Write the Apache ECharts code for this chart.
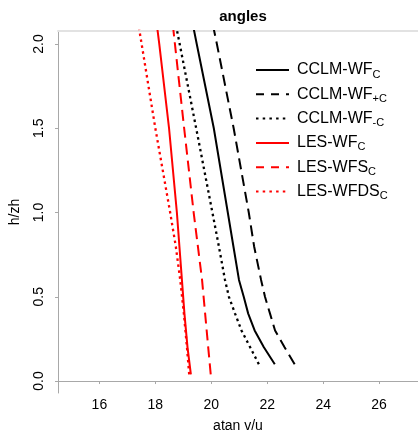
<!DOCTYPE html>
<html><head><meta charset="utf-8">
<script src="https://cdn.jsdelivr.net/npm/echarts@6/dist/echarts.min.js"></script>
<style>html,body{margin:0;padding:0;background:#fff}#c{width:418px;height:438px}</style>
</head><body><div id="c"></div>
<script>
const xTicks = [16, 18, 20, 22, 24, 26];
const yTicks = [0, 0.5, 1.0, 1.5, 2.0];
const hCCLM = [0.1, 0.2, 0.3, 0.4, 0.5, 0.6, 0.8, 1.0, 1.5, 2.0, 2.2];
const cclmWF      = [22.27, 21.88, 21.55, 21.32, 21.16, 20.99, 20.79, 20.59, 20.09, 19.48, 19.24];
const cclmWFplus  = [22.98, 22.62, 22.28, 22.10, 21.92, 21.78, 21.53, 21.34, 20.80, 20.20, 19.95];
const cclmWFminus = [21.70, 21.39, 21.08, 20.85, 20.63, 20.49, 20.27, 20.04, 19.46, 18.87, 18.63];
const hLES = [0.04, 0.2, 0.4, 0.6, 0.8, 1.0, 1.5, 2.0, 2.2];
const lesWF   = [19.27, 19.15, 19.04, 18.95, 18.86, 18.77, 18.49, 18.14, 17.99];
const lesWFS  = [19.98, 19.89, 19.78, 19.67, 19.52, 19.37, 19.03, 18.70, 18.57];
const lesWFDS = [19.21, 19.13, 19.02, 18.89, 18.73, 18.53, 18.00, 17.51, 17.31];

const DASH = [11, 6], DOT = [2.5, 3.5];
const LDASH = [8, 7], LDOT = [2.5, 4.2];
const seriesDefs = [
  {name: 'CCLM-WF_C',  x: cclmWF,      h: hCCLM, color: '#000000', type: 'solid', ltype: 'solid', label: '{n|CCLM-WF}{s|C}'},
  {name: 'CCLM-WF+_C', x: cclmWFplus,  h: hCCLM, color: '#000000', type: DASH, ltype: LDASH, label: '{n|CCLM-WF}{s|+C}'},
  {name: 'CCLM-WF-_C', x: cclmWFminus, h: hCCLM, color: '#000000', type: DOT, ltype: LDOT, label: '{n|CCLM-WF}{s|-C}'},
  {name: 'LES-WF_C',   x: lesWF,       h: hLES,  color: '#ff0000', type: 'solid', ltype: 'solid', label: '{n|LES-WF}{s|C}'},
  {name: 'LES-WFS_C',  x: lesWFS,      h: hLES,  color: '#ff0000', type: DASH, ltype: LDASH, label: '{n|LES-WFS}{s|C}'},
  {name: 'LES-WFDS_C', x: lesWFDS,     h: hLES,  color: '#ff0000', type: DOT, ltype: LDOT, label: '{n|LES-WFDS}{s|C}'}
];
const labelMap = {};
seriesDefs.forEach(d => labelMap[d.name] = d.label);

const FONT = "'Liberation Sans', Arial, Helvetica, sans-serif";
const axisGray = '#a8a8a8';

const chart = echarts.init(document.getElementById('c'), null, {renderer: 'canvas'});
chart.setOption({
  animation: false,
  backgroundColor: '#fff',
  title: {
    text: 'angles', left: 238, top: 4, textAlign: 'center',
    textStyle: {fontFamily: FONT, fontSize: 15, fontWeight: 'bold', color: '#000'}
  },
  grid: {left: 57, right: 0, top: 31, bottom: 44, containLabel: false},
  legend: {
    orient: 'vertical', left: 250, top: 57,
    itemWidth: 33, itemHeight: 14, itemGap: 6.3,
    itemStyle: {opacity: 0},
    data: seriesDefs.map(d => ({name: d.name, itemStyle: {opacity: 0},
      lineStyle: {color: d.color, width: 2, type: d.ltype, cap: 'butt'}})),
    formatter: name => labelMap[name],
    textStyle: {
      padding: [0, 0, 0, 3],
      rich: {
        n: {fontFamily: FONT, fontSize: 16, color: '#000', lineHeight: 20},
        s: {fontFamily: FONT, fontSize: 11, color: '#000', lineHeight: 10, verticalAlign: 'bottom'}
      }
    }
  },
  xAxis: [{
    type: 'value', min: 14.52, max: 27.39, position: 'bottom',
    name: 'atan v/u', nameLocation: 'middle', nameGap: 26,
    nameTextStyle: {fontFamily: FONT, fontSize: 14, color: '#000'},
    splitLine: {show: false},
    axisLine: {show: true, lineStyle: {color: axisGray, width: 1}},
    axisTick: {show: true, length: 3, lineStyle: {color: axisGray}, customValues: xTicks},
    axisLabel: {fontFamily: FONT, fontSize: 14, color: '#000', margin: 5, customValues: xTicks}
  }, {
    type: 'value', min: 14.52, max: 27.39, position: 'top',
    splitLine: {show: false},
    axisLine: {show: true, lineStyle: {color: '#e2e2e2', width: 2}},
    axisTick: {show: false}, axisLabel: {show: false}
  }],
  yAxis: {
    type: 'value', min: -0.071, max: 2.077,
    name: 'h/zh', nameLocation: 'middle', nameGap: 36, nameRotate: 90,
    nameTextStyle: {fontFamily: FONT, fontSize: 14, color: '#000'},
    splitLine: {show: false},
    axisLine: {show: true, lineStyle: {color: axisGray, width: 1}},
    axisTick: {show: true, length: 3, lineStyle: {color: axisGray}, customValues: yTicks},
    axisLabel: {fontFamily: FONT, fontSize: 14, color: '#000', margin: -16, rotate: 90,
      padding: [0, 0, 28, 0],
      customValues: yTicks, formatter: v => v.toFixed(1)}
  },
  series: seriesDefs.map(d => ({
    name: d.name, type: 'line', xAxisIndex: 0,
    data: d.x.map((xv, i) => [xv, d.h[i]]),
    showSymbol: false, symbol: 'none', smooth: false, clip: true,
    lineStyle: {color: d.color, width: d.type === DOT ? 2.3 : 2, type: d.type, cap: 'butt'},
    itemStyle: {color: d.color}
  }))
});
</script></body></html>
